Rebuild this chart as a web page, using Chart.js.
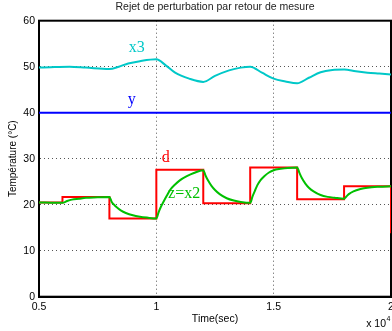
<!DOCTYPE html>
<html>
<head>
<meta charset="utf-8">
<script src="https://cdn.jsdelivr.net/npm/chart.js@4.4.1/dist/chart.umd.min.js"></script>
<style>
  html, body { margin: 0; padding: 0; background: #fff; }
  canvas { display: block; }
</style>
</head>
<body>
<canvas id="chart" width="392" height="331"></canvas>
<script>
// time in units of 10^4 s
const xTicks = [0.5, 1, 1.5, 2];
const yTicks = [0, 10, 20, 30, 40, 50, 60];

// d : disturbance (step signal)
const dTimes  = [0.5, 0.6, 0.8, 1.0, 1.2, 1.4, 1.6, 1.8, 2.0];
const dValues = [20.5, 21.7, 17.0, 27.6, 20.3, 28.1, 21.2, 24.0, 13.8];

// z = x2
const zTimes  = [0.5, 0.55, 0.6, 0.62, 0.64, 0.67, 0.7, 0.75, 0.8,
                 0.81, 0.82, 0.83, 0.85, 0.87, 0.9, 0.93, 0.96, 1.0,
                 1.01, 1.02, 1.03, 1.045, 1.06, 1.08, 1.1, 1.13, 1.16, 1.2,
                 1.21, 1.22, 1.235, 1.25, 1.27, 1.3, 1.33, 1.36, 1.4,
                 1.41, 1.42, 1.43, 1.445, 1.46, 1.48, 1.5, 1.53, 1.56, 1.6,
                 1.61, 1.62, 1.635, 1.65, 1.67, 1.7, 1.73, 1.76, 1.8,
                 1.81, 1.82, 1.84, 1.87, 1.9, 1.95, 2.0];
const zValues = [20.5, 20.45, 20.4, 20.8, 21.1, 21.3, 21.5, 21.6, 21.7,
                 20.6, 20.0, 19.5, 18.7, 18.2, 17.7, 17.4, 17.2, 17.0,
                 18.4, 19.6, 20.6, 22.0, 23.3, 24.4, 25.3, 26.2, 26.9, 27.5,
                 26.3, 25.3, 24.1, 23.2, 22.3, 21.4, 20.9, 20.6, 20.4,
                 21.8, 23.0, 24.2, 25.4, 26.2, 27.0, 27.5, 27.8, 28.0, 28.1,
                 26.9, 25.8, 24.6, 23.7, 22.9, 22.1, 21.7, 21.5, 21.3,
                 21.8, 22.3, 22.9, 23.4, 23.7, 23.9, 24.0];

// x3
const x3Times  = [0.5, 0.55, 0.63, 0.7, 0.8, 0.84, 0.88, 0.93, 1.0,
                  1.04, 1.08, 1.14, 1.2, 1.25, 1.31, 1.36, 1.4,
                  1.45, 1.5, 1.55, 1.6, 1.65, 1.7, 1.75, 1.8,
                  1.85, 1.9, 1.95, 2.0];
const x3Values = [49.8, 49.9, 50.0, 49.8, 49.5, 50.0, 50.7, 51.2, 51.6,
                  50.3, 48.7, 47.4, 46.7, 48.0, 49.2, 49.8, 50.0,
                  48.7, 47.4, 46.8, 46.4, 47.6, 48.8, 49.3, 49.4,
                  49.0, 48.7, 48.5, 48.3];

// y : output
const yTimes  = [0.5, 2.0];
const yValues = [40, 40];

const pairs = (ts, vs) => ts.map((t, i) => ({ x: t, y: vs[i] }));

const colCyan = "#00c8c8";
const colBlue = "#0000ff";
const colRed = "#ff0000";
const colGreen = "#00c000";
const font = "'Liberation Sans', Arial, sans-serif";

const labels = [
  { text: "x3", t: 0.882, v: 53.2, color: colCyan },
  { text: "y", t: 0.878, v: 41.9, color: colBlue },
  { text: "d", t: 1.023, v: 29.3, color: colRed },
  { text: "z=x2", t: 1.05, v: 21.5, color: colGreen }
];

const annotate = {
  id: "annotate",
  beforeDatasetsDraw(chart) {
    const { ctx, chartArea: a } = chart;
    ctx.save();
    ctx.strokeStyle = "#000";
    ctx.lineWidth = 2;
    ctx.setLineDash([]);
    ctx.strokeRect(a.left, a.top, a.right - a.left, a.bottom - a.top);
    ctx.restore();
  },
  afterDatasetsDraw(chart) {
    const { ctx, scales: { x, y } } = chart;
    ctx.save();
    ctx.font = "16px 'Liberation Serif', serif";
    ctx.textAlign = "left";
    ctx.textBaseline = "alphabetic";
    labels.forEach(l => {
      ctx.fillStyle = l.color;
      ctx.fillText(l.text, x.getPixelForValue(l.t), y.getPixelForValue(l.v));
    });
    ctx.restore();
  },
  afterDraw(chart) {
    const { ctx } = chart;
    ctx.save();
    ctx.fillStyle = "#000";
    ctx.font = "10.5px " + font;
    ctx.textAlign = "right";
    ctx.textBaseline = "middle";
    ctx.fillText("x 10", 386, 324);
    ctx.font = "7px " + font;
    ctx.textAlign = "left";
    ctx.fillText("4", 386.5, 319);
    ctx.restore();
  }
};

new Chart(document.getElementById("chart"), {
  type: "line",
  data: {
    datasets: [
      { label: "z=x2", data: pairs(zTimes, zValues), borderColor: colGreen,
        borderWidth: 2, cubicInterpolationMode: "monotone", order: 0 },
      { label: "d", data: pairs(dTimes, dValues), borderColor: colRed,
        borderWidth: 2, stepped: true, order: 1 },
      { label: "y", data: pairs(yTimes, yValues), borderColor: colBlue,
        borderWidth: 2, order: 2 },
      { label: "x3", data: pairs(x3Times, x3Values), borderColor: colCyan,
        borderWidth: 2, cubicInterpolationMode: "monotone", order: 3 }
    ]
  },
  options: {
    responsive: false,
    animation: false,
    events: [],
    elements: { point: { radius: 0 } },
    layout: { padding: { right: 1, left: 0, bottom: 0, top: 0 } },
    plugins: {
      legend: { display: false },
      tooltip: { enabled: false },
      title: {
        display: true,
        fullSize: false,
        text: "Rejet de perturbation par retour de mesure",
        color: "#222",
        font: { family: font, size: 10.5, weight: "normal" },
        padding: { top: 1, bottom: 7.1 }
      }
    },
    scales: {
      x: {
        type: "linear",
        min: 0.5,
        max: 2,
        afterBuildTicks: s => { s.ticks = xTicks.map(v => ({ value: v })); },
        afterFit: s => { s.height = 34.3; s.paddingLeft = 0; s.paddingRight = 0; },
        ticks: {
          color: "#000",
          padding: 4,
          maxRotation: 0,
          autoSkip: false,
          font: { family: font, size: 10.5 },
          callback: v => String(v)
        },
        grid: { color: "#555", drawTicks: false, lineWidth: 1 },
        border: { display: true, color: "#000", width: 2, dash: [1, 3] },
        title: {
          display: true,
          text: "Time(sec)",
          color: "#000",
          font: { family: font, size: 10.5 },
          padding: { top: 0, bottom: 5.4 }
        }
      },
      y: {
        type: "linear",
        min: 0,
        max: 60,
        afterBuildTicks: s => { s.ticks = yTicks.map(v => ({ value: v })); },
        afterFit: s => { s.width = 39; s.paddingTop = 0; s.paddingBottom = 0; },
        ticks: {
          color: "#000",
          padding: 4,
          font: { family: font, size: 10.5 },
          callback: v => String(v)
        },
        grid: { color: "#555", drawTicks: false, lineWidth: 1 },
        border: { display: true, color: "#000", width: 2, dash: [1, 3] },
        title: {
          display: true,
          text: "Température (°C)",
          color: "#000",
          font: { family: font, size: 10 },
          padding: { top: 7, bottom: 0 }
        }
      }
    }
  },
  plugins: [annotate]
});
</script>
</body>
</html>
